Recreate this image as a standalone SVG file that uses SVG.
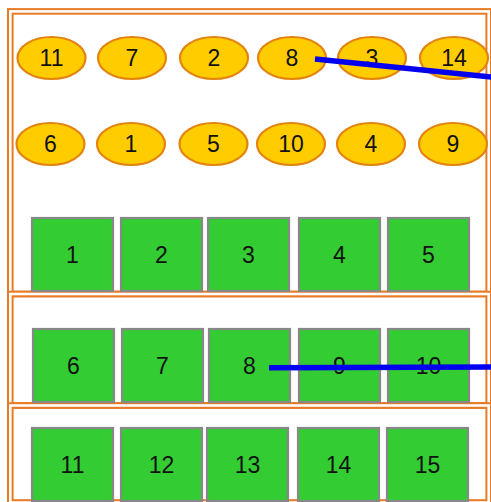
<svg xmlns="http://www.w3.org/2000/svg" width="491" height="502" viewBox="0 0 491 502">
<style>
.lane-o{fill:none;stroke:#e97b25;stroke-width:6.6}
.lane-i{fill:none;stroke:#ffffff;stroke-width:2.6}
.ell{fill:#ffcc00;stroke:#e2840f;stroke-width:2.2}
.box{fill:#33cc33;stroke:#888888;stroke-width:2.2}
.t{font-family:"Liberation Sans",Arial,sans-serif;font-size:23px;fill:#111111;text-anchor:middle}
.edge{stroke:#0000f0;stroke-width:5.5;fill:none}
</style>
<rect width="491" height="502" fill="#ffffff"/>
<g id="lane1"><rect class="lane-o" x="10.3" y="11.4" width="478.4" height="282.6"/><rect class="lane-i" x="10.3" y="11.4" width="478.4" height="282.6"/></g>
<g id="lane2"><rect class="lane-o" x="10.3" y="294" width="478.4" height="111.5"/><rect class="lane-i" x="10.3" y="294" width="478.4" height="111.5"/></g>
<g id="lane3"><rect class="lane-o" x="10.3" y="405.5" width="478.4" height="97"/><rect class="lane-i" x="10.3" y="405.5" width="478.4" height="97"/></g>

<g id="e11"><ellipse class="ell" cx="51.5" cy="58" rx="34" ry="21"/><text class="t" x="51.5" y="66.3">11</text></g>
<g id="e7"><ellipse class="ell" cx="132" cy="58" rx="34" ry="21"/><text class="t" x="132" y="66.3">7</text></g>
<g id="e2"><ellipse class="ell" cx="214" cy="58" rx="34" ry="21"/><text class="t" x="214" y="66.3">2</text></g>
<g id="e8"><ellipse class="ell" cx="292" cy="58" rx="34" ry="21"/><text class="t" x="292" y="66.3">8</text></g>
<g id="e3"><ellipse class="ell" cx="372" cy="58" rx="34" ry="21"/><text class="t" x="372" y="66.3">3</text></g>
<g id="e14"><ellipse class="ell" cx="454" cy="58" rx="34" ry="21"/><text class="t" x="454" y="66.3">14</text></g>

<g id="e6"><ellipse class="ell" cx="50.5" cy="144" rx="34" ry="21"/><text class="t" x="50.5" y="152.3">6</text></g>
<g id="e1"><ellipse class="ell" cx="131" cy="144" rx="34" ry="21"/><text class="t" x="131" y="152.3">1</text></g>
<g id="e5"><ellipse class="ell" cx="213.5" cy="144" rx="34" ry="21"/><text class="t" x="213.5" y="152.3">5</text></g>
<g id="e10"><ellipse class="ell" cx="291" cy="144" rx="34" ry="21"/><text class="t" x="291" y="152.3">10</text></g>
<g id="e4"><ellipse class="ell" cx="371" cy="144" rx="34" ry="21"/><text class="t" x="371" y="152.3">4</text></g>
<g id="e9"><ellipse class="ell" cx="453" cy="144" rx="34" ry="21"/><text class="t" x="453" y="152.3">9</text></g>

<g id="b1"><rect class="box" x="32" y="218" width="81" height="73"/><text class="t" x="72.5" y="263">1</text></g>
<g id="b2"><rect class="box" x="121" y="218" width="81" height="73"/><text class="t" x="161.5" y="263">2</text></g>
<g id="b3"><rect class="box" x="208" y="218" width="81" height="73"/><text class="t" x="248.5" y="263">3</text></g>
<g id="b4"><rect class="box" x="299" y="218" width="81" height="73"/><text class="t" x="339.5" y="263">4</text></g>
<g id="b5"><rect class="box" x="388" y="218" width="81" height="73"/><text class="t" x="428.5" y="263">5</text></g>

<g id="b6"><rect class="box" x="33" y="329" width="81" height="73"/><text class="t" x="73.5" y="374">6</text></g>
<g id="b7"><rect class="box" x="122" y="329" width="81" height="73"/><text class="t" x="162.5" y="374">7</text></g>
<g id="b8"><rect class="box" x="209" y="329" width="81" height="73"/><text class="t" x="249.5" y="374">8</text></g>
<g id="b9"><rect class="box" x="299" y="329" width="81" height="73"/><text class="t" x="339.5" y="374">9</text></g>
<g id="b10"><rect class="box" x="388" y="329" width="81" height="73"/><text class="t" x="428.5" y="374">10</text></g>

<g id="b11"><rect class="box" x="32" y="428" width="81" height="73"/><text class="t" x="72.5" y="473">11</text></g>
<g id="b12"><rect class="box" x="121" y="428" width="81" height="73"/><text class="t" x="161.5" y="473">12</text></g>
<g id="b13"><rect class="box" x="207" y="428" width="81" height="73"/><text class="t" x="247.5" y="473">13</text></g>
<g id="b14"><rect class="box" x="298" y="428" width="81" height="73"/><text class="t" x="338.5" y="473">14</text></g>
<g id="b15"><rect class="box" x="387" y="428" width="81" height="73"/><text class="t" x="427.5" y="473">15</text></g>

<g id="connectors">
<line class="edge" x1="315" y1="59" x2="496" y2="77.5"/>
<line class="edge" x1="269" y1="367.7" x2="496" y2="367"/>
</g>
</svg>
